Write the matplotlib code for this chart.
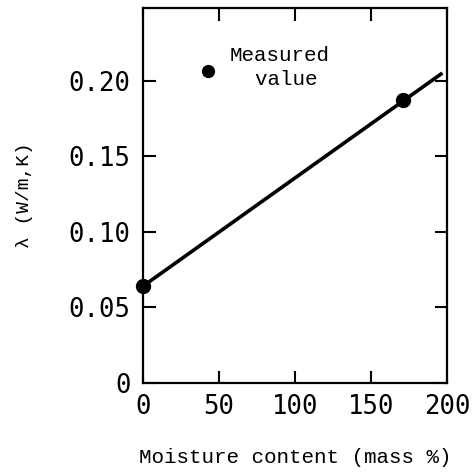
import matplotlib
matplotlib.use('Agg')
import matplotlib.pyplot as plt
import numpy as np

# measured points: moisture content (mass %) vs thermal conductivity (W/m,K)
moisture = [0, 171]
conductivity = [0.064, 0.187]

# fitted line end points
line_x = [0, 197]
line_y = [0.064, 0.205]

# legend marker position
legend_pt_x = [43]
legend_pt_y = [0.206]

x_ticks = [0, 50, 100, 150, 200]
y_ticks = [0, 0.05, 0.10, 0.15, 0.20]
y_tick_labels = ['0', '0.05', '0.10', '0.15', '0.20']

fig = plt.figure(figsize=(4.74, 4.72), dpi=100)
ax = fig.add_axes([0.302, 0.189, 0.641, 0.794])

ax.plot(line_x, line_y, color='black', lw=2.6, solid_capstyle='butt')
ax.plot(moisture, conductivity, 'o', color='black', ms=10, clip_on=False)
ax.plot(legend_pt_x, legend_pt_y, 'o', color='black', ms=8.5)
ax.text(57, 0.2085, 'Measured\n  value', fontsize=15, family='Liberation Mono',
        va='center', ha='left', linespacing=1.3)

ax.set_xlim(0, 200)
ax.set_ylim(0, 0.248)
ax.set_xticks(x_ticks)
ax.set_xticklabels([str(v) for v in x_ticks], family='DejaVu Sans Mono', fontsize=18.5)
ax.set_yticks(y_ticks)
ax.set_yticklabels(y_tick_labels, family='DejaVu Sans Mono', fontsize=18.5)

ax.tick_params(direction='in', length=9, width=1.5, top=True, right=True)
ax.tick_params(axis='x', pad=8)
ax.tick_params(axis='y', pad=9)
for s in ax.spines.values():
    s.set_linewidth(1.6)

ax.set_xlabel('Moisture content (mass %)', family='Liberation Mono', fontsize=15, labelpad=20)
ax.set_ylabel('λ (W/m,K)', family='Liberation Mono', fontsize=14, labelpad=26)

fig.savefig('out.png', dpi=100)
